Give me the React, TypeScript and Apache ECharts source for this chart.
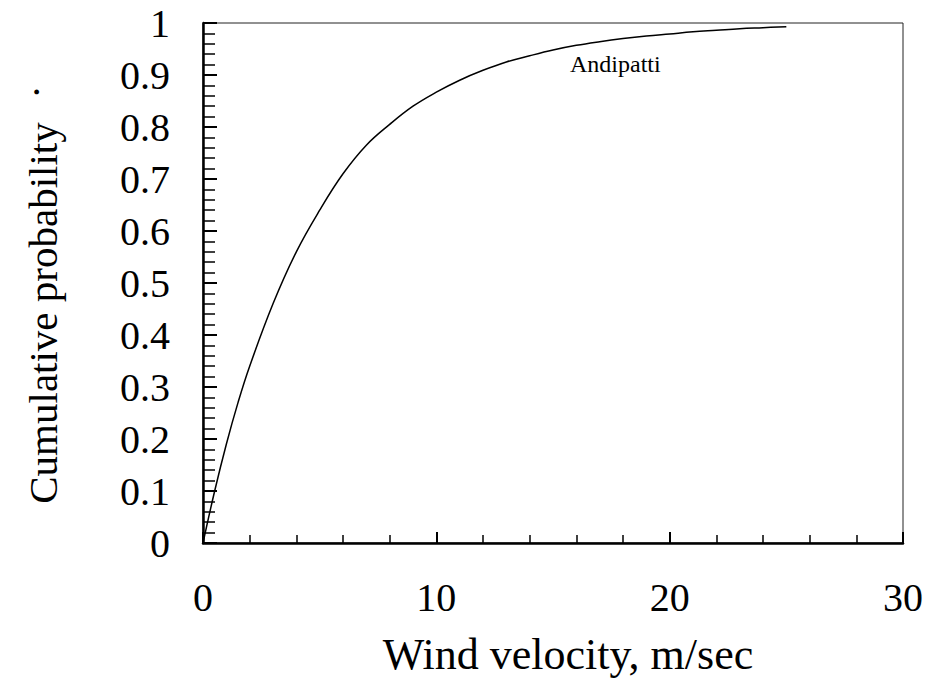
import React, { useEffect, useRef } from "react";
import * as echarts from "echarts";

const velocity = [0, 0.5, 1, 1.5, 2, 3, 4, 5, 6, 7, 8, 9, 10, 11, 12, 13, 14, 15, 16, 17, 18, 19, 20, 21, 22, 23, 24, 25];
const cumProb = [0, 0.1, 0.19, 0.27, 0.34, 0.46, 0.56, 0.64, 0.71, 0.765, 0.805, 0.84, 0.867, 0.89, 0.909, 0.925, 0.937, 0.948, 0.957, 0.964, 0.97, 0.975, 0.979, 0.983, 0.986, 0.989, 0.991, 0.993];
const siteLabel = "Andipatti";
const xTitle = "Wind velocity, m/sec";
const yTitle = "Cumulative probability";
const yTitleMark = "\u00b7";

const FONT = "Liberation Serif";

export default function App() {
  const ref = useRef<HTMLDivElement>(null);
  useEffect(() => {
    if (!ref.current) return;
    const chart = echarts.init(ref.current, undefined, { renderer: "svg" });
    chart.setOption({
      animation: false,
      backgroundColor: "#fff",
      grid: {
        left: 203,
        right: 25,
        top: 23,
        bottom: 135,
        show: true,
        borderColor: "#222",
        borderWidth: 1,
      },
      xAxis: {
        type: "value",
        min: 0,
        max: 30,
        interval: 10,
        axisLine: { show: true, lineStyle: { color: "#000", width: 2.5 } },
        axisTick: { show: true, inside: true, length: 11, lineStyle: { color: "#000", width: 2 } },
        minorTick: { show: true, splitNumber: 5, length: 8, lineStyle: { color: "#000", width: 1.5 } },
        splitLine: { show: false },
        axisLabel: { fontFamily: FONT, fontSize: 40, color: "#000", margin: 34 },
      },
      yAxis: {
        type: "value",
        min: 0,
        max: 1,
        interval: 0.1,
        axisLine: { show: true, lineStyle: { color: "#000", width: 2.5 } },
        axisTick: { show: true, inside: true, length: 14, lineStyle: { color: "#000", width: 2 } },
        minorTick: { show: true, splitNumber: 5, length: 12, lineStyle: { color: "#000", width: 1.5 } },
        splitLine: { show: false },
        axisLabel: { fontFamily: FONT, fontSize: 40, color: "#000", margin: 33 },
      },
      graphic: [
        {
          type: "text",
          left: 570,
          top: 52,
          style: { text: siteLabel, fontFamily: FONT, fontSize: 24, fill: "#000" },
        },
        {
          type: "text",
          x: 568,
          y: 654,
          style: {
            text: xTitle,
            fontFamily: FONT,
            fontSize: 44,
            fill: "#000",
            align: "center",
            verticalAlign: "middle",
          },
        },
        {
          type: "text",
          x: 43,
          y: 313,
          rotation: Math.PI / 2,
          style: {
            text: yTitle,
            fontFamily: FONT,
            fontSize: 41,
            fill: "#000",
            align: "center",
            verticalAlign: "middle",
          },
        },
        {
          type: "text",
          x: 36,
          y: 92,
          rotation: Math.PI / 2,
          style: {
            text: yTitleMark,
            fontFamily: FONT,
            fontSize: 41,
            fill: "#000",
            align: "center",
            verticalAlign: "middle",
          },
        },
      ],
      series: [
        {
          type: "line",
          data: velocity.map((v, i) => [v, cumProb[i]]),
          smooth: 0.4,
          symbol: "none",
          lineStyle: { color: "#000", width: 1.5 },
        },
      ],
    });
    return () => chart.dispose();
  }, []);
  return <div ref={ref} style={{ width: 928, height: 678, position: "absolute", left: 0, top: 0 }} />;
}
